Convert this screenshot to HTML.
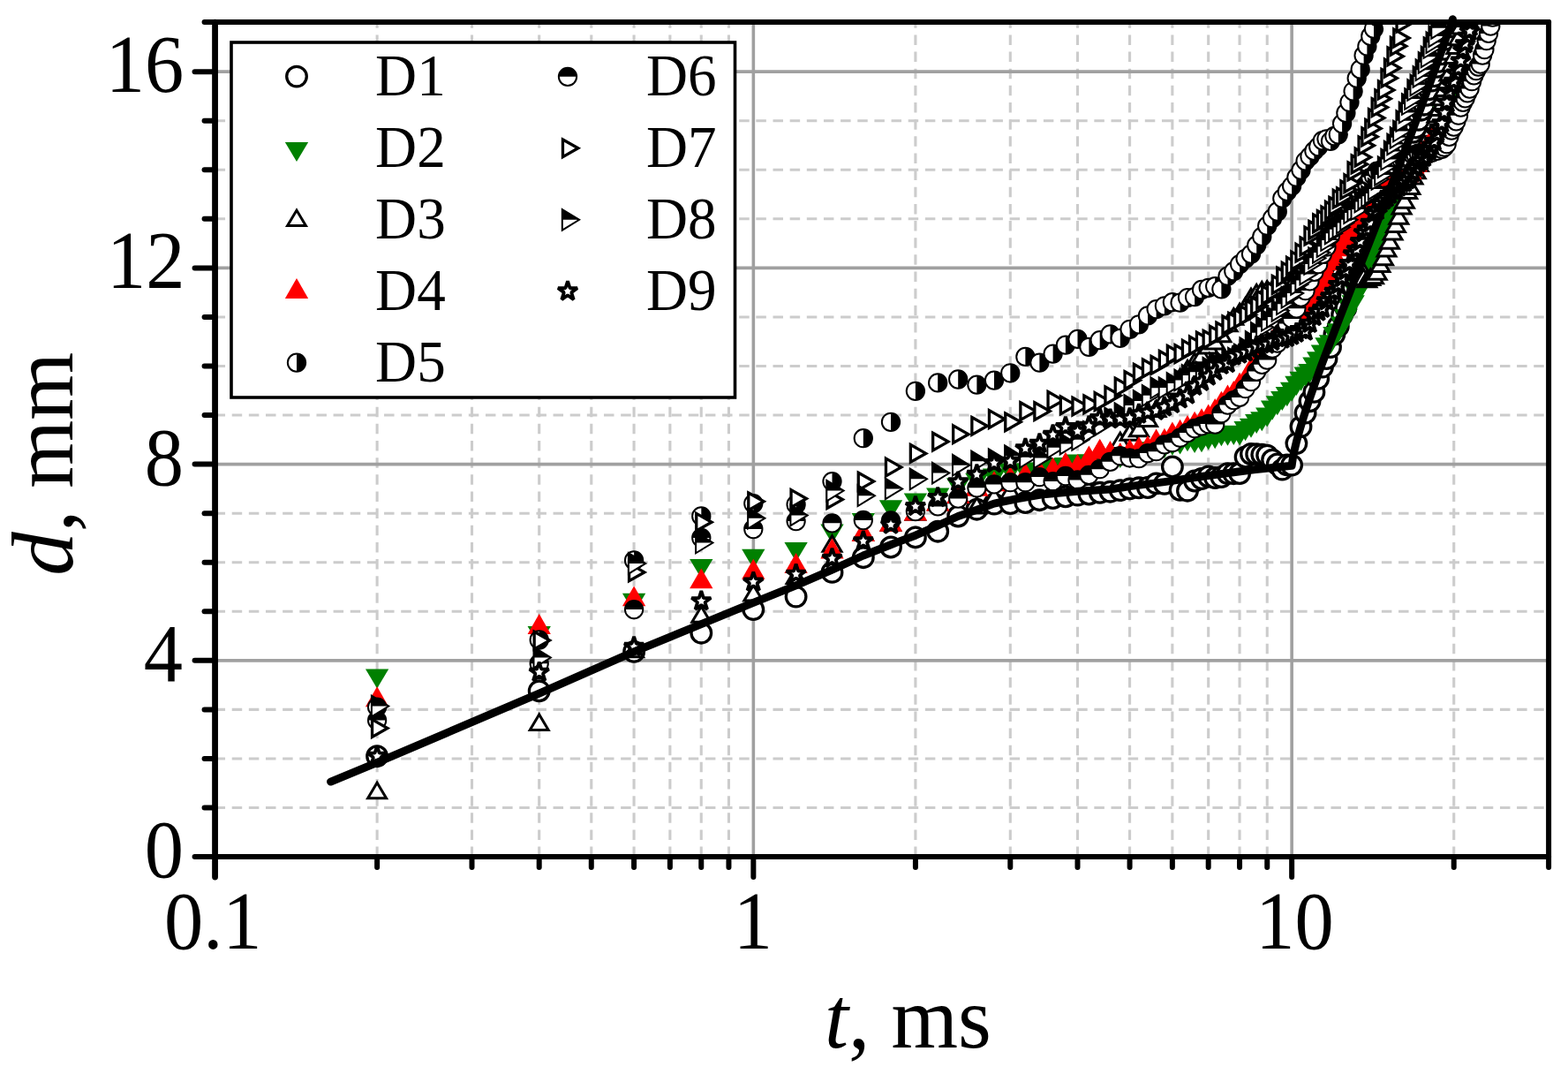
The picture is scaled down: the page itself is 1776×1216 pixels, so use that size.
<!DOCTYPE html>
<html lang="en"><head><meta charset="utf-8"><title>d, mm vs t, ms</title>
<style>html,body{margin:0;padding:0;background:#fff;overflow:hidden}svg{display:block}</style>
</head><body>
<svg width="1776" height="1216" viewBox="0 0 1776 1216">
<rect width="1776" height="1216" fill="#fff"/>
<defs><clipPath id="cp"><rect x="243.55" y="25.10" width="1510.55" height="945.00"/></clipPath><circle id="m1" r="11.3" fill="#fff" stroke="#000" stroke-width="3.3"/><polygon id="m2" points="-13.15,-6.6 13.15,-6.6 0,15.5" fill="#008000"/><polygon id="m3" points="-10.45,7 10.45,7 0,-10.5" fill="#fff" stroke="#000" stroke-width="3"/><polygon id="m4" points="-13.15,8.4 13.15,8.4 0,-14.5" fill="#f00"/><g id="m5"><circle r="10.15" fill="#fff" stroke="#000" stroke-width="2"/><path d="M0,-10.15A10.15,10.15 0 0 1 0,10.15Z" fill="#000"/></g><g id="m6"><circle r="10.15" fill="#fff" stroke="#000" stroke-width="2"/><path d="M-10.15,0A10.15,10.15 0 0 1 10.15,0Z" fill="#000"/></g><polygon id="m7" points="-5.55,-9.84 11.8,0 -5.55,9.84" fill="#fff" stroke="#000" stroke-width="3.3"/><g id="m8"><polygon points="-6.2,-11.8 13.1,0 -6.2,11.8" fill="#fff" stroke="#000" stroke-width="2"/><polygon points="-6.2,-11.8 13.1,0 -6.2,0" fill="#000"/></g><polygon id="m9" points="0.00,-11.50 2.59,-3.56 10.94,-3.55 4.18,1.36 6.76,9.30 0.00,4.40 -6.76,9.30 -4.18,1.36 -10.94,-3.55 -2.59,-3.56" fill="#fff" stroke="#000" stroke-width="3.8" stroke-linejoin="bevel"/></defs>
<g stroke="#cccccc" stroke-width="3.1" stroke-dasharray="11.5 7.65" fill="none"><line x1="427.12" y1="970.10" x2="427.12" y2="25.10"/><line x1="534.50" y1="970.10" x2="534.50" y2="25.10"/><line x1="610.69" y1="970.10" x2="610.69" y2="25.10"/><line x1="669.78" y1="970.10" x2="669.78" y2="25.10"/><line x1="718.07" y1="970.10" x2="718.07" y2="25.10"/><line x1="758.89" y1="970.10" x2="758.89" y2="25.10"/><line x1="794.25" y1="970.10" x2="794.25" y2="25.10"/><line x1="825.45" y1="970.10" x2="825.45" y2="25.10"/><line x1="1036.92" y1="970.10" x2="1036.92" y2="25.10"/><line x1="1144.30" y1="970.10" x2="1144.30" y2="25.10"/><line x1="1220.49" y1="970.10" x2="1220.49" y2="25.10"/><line x1="1279.58" y1="970.10" x2="1279.58" y2="25.10"/><line x1="1327.87" y1="970.10" x2="1327.87" y2="25.10"/><line x1="1368.69" y1="970.10" x2="1368.69" y2="25.10"/><line x1="1404.05" y1="970.10" x2="1404.05" y2="25.10"/><line x1="1435.25" y1="970.10" x2="1435.25" y2="25.10"/><line x1="1646.72" y1="970.10" x2="1646.72" y2="25.10"/><line x1="243.55" y1="914.54" x2="1754.10" y2="914.54"/><line x1="243.55" y1="858.98" x2="1754.10" y2="858.98"/><line x1="243.55" y1="803.42" x2="1754.10" y2="803.42"/><line x1="243.55" y1="692.30" x2="1754.10" y2="692.30"/><line x1="243.55" y1="636.74" x2="1754.10" y2="636.74"/><line x1="243.55" y1="581.18" x2="1754.10" y2="581.18"/><line x1="243.55" y1="470.06" x2="1754.10" y2="470.06"/><line x1="243.55" y1="414.50" x2="1754.10" y2="414.50"/><line x1="243.55" y1="358.94" x2="1754.10" y2="358.94"/><line x1="243.55" y1="247.82" x2="1754.10" y2="247.82"/><line x1="243.55" y1="192.26" x2="1754.10" y2="192.26"/><line x1="243.55" y1="136.70" x2="1754.10" y2="136.70"/></g>
<g stroke="#a0a0a0" stroke-width="3.6" fill="none"><line x1="853.35" y1="970.10" x2="853.35" y2="25.10"/><line x1="1463.15" y1="970.10" x2="1463.15" y2="25.10"/><line x1="243.55" y1="747.86" x2="1754.10" y2="747.86"/><line x1="243.55" y1="525.62" x2="1754.10" y2="525.62"/><line x1="243.55" y1="303.38" x2="1754.10" y2="303.38"/><line x1="243.55" y1="81.14" x2="1754.10" y2="81.14"/></g>
<g clip-path="url(#cp)">
<g><use href="#m1" x="427.1" y="856.2"/><use href="#m1" x="610.7" y="782.3"/><use href="#m1" x="718.1" y="737.9"/><use href="#m1" x="794.3" y="716.7"/><use href="#m1" x="853.3" y="690.1"/><use href="#m1" x="901.6" y="675.6"/><use href="#m1" x="942.5" y="647.9"/><use href="#m1" x="977.8" y="631.2"/><use href="#m1" x="1009.0" y="619.5"/><use href="#m1" x="1036.9" y="608.4"/><use href="#m1" x="1062.2" y="601.7"/><use href="#m1" x="1085.2" y="584.5"/><use href="#m1" x="1106.4" y="576.7"/><use href="#m1" x="1126.0" y="570.6"/><use href="#m1" x="1144.3" y="570.1"/><use href="#m1" x="1161.4" y="569.0"/><use href="#m1" x="1177.4" y="566.2"/><use href="#m1" x="1192.6" y="564.0"/><use href="#m1" x="1206.9" y="562.3"/><use href="#m1" x="1220.5" y="560.6"/><use href="#m1" x="1233.4" y="559.5"/><use href="#m1" x="1245.7" y="557.8"/><use href="#m1" x="1257.5" y="556.7"/><use href="#m1" x="1268.8" y="555.1"/><use href="#m1" x="1279.6" y="553.4"/><use href="#m1" x="1290.0" y="552.3"/><use href="#m1" x="1300.0" y="552.0"/><use href="#m1" x="1309.6" y="547.4"/><use href="#m1" x="1318.9" y="547.9"/><use href="#m1" x="1327.9" y="528.5"/><use href="#m1" x="1336.6" y="554.8"/><use href="#m1" x="1345.0" y="555.7"/><use href="#m1" x="1353.1" y="544.5"/><use href="#m1" x="1361.0" y="542.0"/><use href="#m1" x="1368.7" y="539.5"/><use href="#m1" x="1376.2" y="541.0"/><use href="#m1" x="1383.4" y="540.1"/><use href="#m1" x="1390.5" y="536.1"/><use href="#m1" x="1397.3" y="536.2"/><use href="#m1" x="1404.1" y="536.0"/><use href="#m1" x="1410.6" y="517.5"/><use href="#m1" x="1417.0" y="514.0"/><use href="#m1" x="1423.2" y="514.2"/><use href="#m1" x="1429.3" y="514.8"/><use href="#m1" x="1435.2" y="515.6"/><use href="#m1" x="1441.1" y="520.7"/><use href="#m1" x="1446.8" y="525.5"/><use href="#m1" x="1452.3" y="531.6"/><use href="#m1" x="1457.8" y="526.4"/><use href="#m1" x="1463.1" y="526.6"/><use href="#m1" x="1468.4" y="502.1"/><use href="#m1" x="1473.5" y="483.1"/><use href="#m1" x="1478.6" y="467.6"/><use href="#m1" x="1483.5" y="454.3"/><use href="#m1" x="1488.4" y="443.9"/><use href="#m1" x="1493.2" y="428.8"/><use href="#m1" x="1497.9" y="415.6"/><use href="#m1" x="1502.5" y="406.0"/><use href="#m1" x="1507.0" y="393.1"/><use href="#m1" x="1511.4" y="378.6"/><use href="#m1" x="1515.8" y="369.4"/><use href="#m1" x="1520.1" y="356.6"/><use href="#m1" x="1524.4" y="348.8"/><use href="#m1" x="1528.5" y="335.8"/><use href="#m1" x="1532.6" y="326.7"/><use href="#m1" x="1536.7" y="315.4"/><use href="#m1" x="1540.7" y="304.0"/><use href="#m1" x="1544.6" y="294.5"/><use href="#m1" x="1548.4" y="283.7"/><use href="#m1" x="1552.3" y="274.7"/><use href="#m1" x="1556.0" y="266.4"/><use href="#m1" x="1559.7" y="259.1"/><use href="#m1" x="1563.4" y="249.0"/><use href="#m1" x="1567.0" y="239.4"/><use href="#m1" x="1570.5" y="227.7"/><use href="#m1" x="1574.0" y="219.4"/><use href="#m1" x="1577.5" y="212.1"/><use href="#m1" x="1580.9" y="202.6"/><use href="#m1" x="1584.3" y="194.8"/><use href="#m1" x="1587.6" y="186.1"/><use href="#m1" x="1590.9" y="177.0"/><use href="#m1" x="1594.2" y="166.6"/><use href="#m1" x="1597.4" y="159.3"/><use href="#m1" x="1600.5" y="149.9"/><use href="#m1" x="1603.7" y="144.5"/><use href="#m1" x="1606.8" y="135.9"/><use href="#m1" x="1609.8" y="124.7"/><use href="#m1" x="1612.9" y="118.7"/><use href="#m1" x="1615.9" y="107.8"/><use href="#m1" x="1618.8" y="101.4"/><use href="#m1" x="1621.7" y="91.6"/><use href="#m1" x="1624.6" y="86.4"/><use href="#m1" x="1627.5" y="75.9"/><use href="#m1" x="1630.3" y="69.8"/><use href="#m1" x="1633.1" y="61.4"/><use href="#m1" x="1635.9" y="55.8"/><use href="#m1" x="1638.7" y="44.5"/><use href="#m1" x="1641.4" y="38.7"/><use href="#m1" x="1644.1" y="30.4"/><use href="#m1" x="1646.7" y="24.2"/><use href="#m1" x="1649.4" y="14.4"/></g>
<g><use href="#m2" x="427.1" y="764.0"/><use href="#m2" x="610.7" y="715.6"/><use href="#m2" x="718.1" y="678.4"/><use href="#m2" x="794.3" y="639.5"/><use href="#m2" x="853.3" y="628.4"/><use href="#m2" x="901.6" y="620.6"/><use href="#m2" x="942.5" y="600.1"/><use href="#m2" x="977.8" y="587.6"/><use href="#m2" x="1009.0" y="572.8"/><use href="#m2" x="1036.9" y="565.1"/><use href="#m2" x="1062.2" y="559.0"/><use href="#m2" x="1085.2" y="547.8"/><use href="#m2" x="1106.4" y="542.3"/><use href="#m2" x="1126.0" y="537.2"/><use href="#m2" x="1144.3" y="531.2"/><use href="#m2" x="1161.4" y="531.6"/><use href="#m2" x="1177.4" y="530.1"/><use href="#m2" x="1192.6" y="525.6"/><use href="#m2" x="1206.9" y="524.5"/><use href="#m2" x="1220.5" y="521.2"/><use href="#m2" x="1233.4" y="521.2"/><use href="#m2" x="1245.7" y="518.9"/><use href="#m2" x="1257.5" y="517.6"/><use href="#m2" x="1268.8" y="514.5"/><use href="#m2" x="1279.6" y="514.5"/><use href="#m2" x="1290.0" y="511.6"/><use href="#m2" x="1300.0" y="506.9"/><use href="#m2" x="1309.6" y="506.3"/><use href="#m2" x="1318.9" y="503.6"/><use href="#m2" x="1327.9" y="500.2"/><use href="#m2" x="1336.6" y="499.1"/><use href="#m2" x="1345.0" y="495.8"/><use href="#m2" x="1353.1" y="497.6"/><use href="#m2" x="1361.0" y="496.8"/><use href="#m2" x="1368.7" y="493.9"/><use href="#m2" x="1376.2" y="492.7"/><use href="#m2" x="1383.4" y="489.8"/><use href="#m2" x="1390.5" y="489.3"/><use href="#m2" x="1397.3" y="488.4"/><use href="#m2" x="1404.1" y="489.1"/><use href="#m2" x="1410.6" y="483.7"/><use href="#m2" x="1417.0" y="480.3"/><use href="#m2" x="1423.2" y="475.6"/><use href="#m2" x="1429.3" y="472.8"/><use href="#m2" x="1435.2" y="468.0"/><use href="#m2" x="1441.1" y="460.2"/><use href="#m2" x="1446.8" y="454.8"/><use href="#m2" x="1452.3" y="449.5"/><use href="#m2" x="1457.8" y="444.7"/><use href="#m2" x="1463.1" y="439.3"/><use href="#m2" x="1468.4" y="432.4"/><use href="#m2" x="1473.5" y="427.3"/><use href="#m2" x="1478.6" y="422.1"/><use href="#m2" x="1483.5" y="418.5"/><use href="#m2" x="1488.4" y="411.1"/><use href="#m2" x="1493.2" y="404.8"/><use href="#m2" x="1497.9" y="397.0"/><use href="#m2" x="1502.5" y="388.8"/><use href="#m2" x="1507.0" y="385.8"/><use href="#m2" x="1511.4" y="376.7"/><use href="#m2" x="1515.8" y="372.8"/><use href="#m2" x="1520.1" y="365.2"/><use href="#m2" x="1524.4" y="356.8"/><use href="#m2" x="1528.5" y="345.2"/><use href="#m2" x="1532.6" y="340.8"/><use href="#m2" x="1536.7" y="330.4"/><use href="#m2" x="1540.7" y="324.0"/><use href="#m2" x="1544.6" y="316.2"/><use href="#m2" x="1548.4" y="299.7"/><use href="#m2" x="1552.3" y="290.0"/><use href="#m2" x="1556.0" y="276.3"/><use href="#m2" x="1559.7" y="268.8"/><use href="#m2" x="1563.4" y="258.2"/><use href="#m2" x="1567.0" y="255.9"/><use href="#m2" x="1570.5" y="248.7"/><use href="#m2" x="1574.0" y="243.0"/><use href="#m2" x="1577.5" y="234.3"/><use href="#m2" x="1580.9" y="227.8"/><use href="#m2" x="1584.3" y="223.0"/><use href="#m2" x="1587.6" y="213.0"/><use href="#m2" x="1590.9" y="210.8"/><use href="#m2" x="1594.2" y="203.5"/><use href="#m2" x="1597.4" y="200.5"/><use href="#m2" x="1600.5" y="193.2"/><use href="#m2" x="1603.7" y="188.0"/><use href="#m2" x="1606.8" y="183.7"/><use href="#m2" x="1609.8" y="181.1"/><use href="#m2" x="1612.9" y="179.1"/><use href="#m2" x="1615.9" y="173.5"/><use href="#m2" x="1618.8" y="168.9"/><use href="#m2" x="1621.7" y="165.7"/><use href="#m2" x="1624.6" y="160.7"/><use href="#m2" x="1627.5" y="153.0"/><use href="#m2" x="1630.3" y="146.6"/><use href="#m2" x="1633.1" y="140.6"/><use href="#m2" x="1635.9" y="126.7"/><use href="#m2" x="1638.7" y="116.7"/><use href="#m2" x="1641.4" y="106.0"/></g>
<g><use href="#m3" x="427.1" y="896.8"/><use href="#m3" x="610.7" y="819.5"/><use href="#m3" x="718.1" y="736.7"/><use href="#m3" x="794.3" y="697.3"/><use href="#m3" x="853.3" y="672.9"/><use href="#m3" x="901.6" y="653.4"/><use href="#m3" x="942.5" y="617.3"/><use href="#m3" x="977.8" y="604.5"/><use href="#m3" x="1009.0" y="593.4"/><use href="#m3" x="1036.9" y="581.2"/><use href="#m3" x="1062.2" y="570.1"/><use href="#m3" x="1085.2" y="561.7"/><use href="#m3" x="1106.4" y="574.0"/><use href="#m3" x="1126.0" y="563.4"/><use href="#m3" x="1144.3" y="557.3"/><use href="#m3" x="1161.4" y="538.4"/><use href="#m3" x="1177.4" y="535.2"/><use href="#m3" x="1192.6" y="532.3"/><use href="#m3" x="1206.9" y="526.2"/><use href="#m3" x="1220.5" y="528.4"/><use href="#m3" x="1233.4" y="519.0"/><use href="#m3" x="1245.7" y="511.2"/><use href="#m3" x="1257.5" y="513.4"/><use href="#m3" x="1268.8" y="500.6"/><use href="#m3" x="1279.6" y="491.2"/><use href="#m3" x="1290.0" y="486.7"/><use href="#m3" x="1300.0" y="475.6"/><use href="#m3" x="1309.6" y="464.5"/><use href="#m3" x="1318.9" y="451.6"/><use href="#m3" x="1327.9" y="438.9"/><use href="#m3" x="1336.6" y="428.8"/><use href="#m3" x="1345.0" y="418.9"/><use href="#m3" x="1353.1" y="410.6"/><use href="#m3" x="1361.0" y="403.7"/><use href="#m3" x="1368.7" y="392.9"/><use href="#m3" x="1376.2" y="387.9"/><use href="#m3" x="1383.4" y="379.8"/><use href="#m3" x="1390.5" y="367.8"/><use href="#m3" x="1397.3" y="360.2"/><use href="#m3" x="1404.1" y="354.7"/><use href="#m3" x="1410.6" y="348.2"/><use href="#m3" x="1417.0" y="337.7"/><use href="#m3" x="1423.2" y="333.0"/><use href="#m3" x="1429.3" y="329.9"/><use href="#m3" x="1435.2" y="329.2"/><use href="#m3" x="1441.1" y="328.9"/><use href="#m3" x="1446.8" y="325.9"/><use href="#m3" x="1452.3" y="326.8"/><use href="#m3" x="1457.8" y="325.0"/><use href="#m3" x="1463.1" y="323.8"/><use href="#m3" x="1468.4" y="323.1"/><use href="#m3" x="1473.5" y="323.2"/><use href="#m3" x="1478.6" y="318.3"/><use href="#m3" x="1483.5" y="317.5"/><use href="#m3" x="1488.4" y="316.1"/><use href="#m3" x="1493.2" y="314.8"/><use href="#m3" x="1497.9" y="315.4"/><use href="#m3" x="1502.5" y="312.0"/><use href="#m3" x="1507.0" y="311.9"/><use href="#m3" x="1511.4" y="309.2"/><use href="#m3" x="1515.8" y="307.2"/><use href="#m3" x="1520.1" y="309.4"/><use href="#m3" x="1524.4" y="305.9"/><use href="#m3" x="1528.5" y="307.5"/><use href="#m3" x="1532.6" y="304.1"/><use href="#m3" x="1536.7" y="303.7"/><use href="#m3" x="1540.7" y="302.7"/><use href="#m3" x="1544.6" y="315.5"/><use href="#m3" x="1548.4" y="317.8"/><use href="#m3" x="1552.3" y="315.5"/><use href="#m3" x="1556.0" y="313.8"/><use href="#m3" x="1559.7" y="309.3"/><use href="#m3" x="1563.4" y="300.6"/><use href="#m3" x="1567.0" y="292.8"/><use href="#m3" x="1570.5" y="283.1"/><use href="#m3" x="1574.0" y="274.2"/><use href="#m3" x="1577.5" y="264.1"/><use href="#m3" x="1580.9" y="255.4"/><use href="#m3" x="1584.3" y="246.3"/><use href="#m3" x="1587.6" y="235.1"/><use href="#m3" x="1590.9" y="228.3"/><use href="#m3" x="1594.2" y="217.4"/><use href="#m3" x="1597.4" y="212.6"/><use href="#m3" x="1600.5" y="201.1"/><use href="#m3" x="1603.7" y="194.8"/><use href="#m3" x="1606.8" y="186.6"/><use href="#m3" x="1609.8" y="176.3"/><use href="#m3" x="1612.9" y="170.1"/><use href="#m3" x="1615.9" y="163.1"/><use href="#m3" x="1618.8" y="154.2"/><use href="#m3" x="1621.7" y="147.3"/><use href="#m3" x="1624.6" y="138.6"/><use href="#m3" x="1627.5" y="131.0"/><use href="#m3" x="1630.3" y="123.5"/><use href="#m3" x="1633.1" y="111.7"/><use href="#m3" x="1635.9" y="101.5"/><use href="#m3" x="1638.7" y="93.1"/><use href="#m3" x="1641.4" y="83.9"/><use href="#m3" x="1644.1" y="73.2"/><use href="#m3" x="1646.7" y="64.6"/><use href="#m3" x="1649.4" y="53.5"/><use href="#m3" x="1652.0" y="43.7"/><use href="#m3" x="1654.5" y="31.1"/><use href="#m3" x="1657.1" y="22.4"/></g>
<g><use href="#m4" x="427.1" y="791.8"/><use href="#m4" x="610.7" y="709.5"/><use href="#m4" x="718.1" y="677.9"/><use href="#m4" x="794.3" y="657.9"/><use href="#m4" x="853.3" y="647.3"/><use href="#m4" x="901.6" y="640.6"/><use href="#m4" x="942.5" y="624.0"/><use href="#m4" x="977.8" y="604.5"/><use href="#m4" x="1009.0" y="593.4"/><use href="#m4" x="1036.9" y="581.2"/><use href="#m4" x="1062.2" y="570.1"/><use href="#m4" x="1085.2" y="561.7"/><use href="#m4" x="1106.4" y="553.4"/><use href="#m4" x="1126.0" y="547.8"/><use href="#m4" x="1144.3" y="542.3"/><use href="#m4" x="1161.4" y="538.4"/><use href="#m4" x="1177.4" y="534.9"/><use href="#m4" x="1192.6" y="532.3"/><use href="#m4" x="1206.9" y="526.2"/><use href="#m4" x="1220.5" y="528.4"/><use href="#m4" x="1233.4" y="519.0"/><use href="#m4" x="1245.7" y="511.2"/><use href="#m4" x="1257.5" y="513.4"/><use href="#m4" x="1268.8" y="515.6"/><use href="#m4" x="1279.6" y="511.5"/><use href="#m4" x="1290.0" y="508.8"/><use href="#m4" x="1300.0" y="507.4"/><use href="#m4" x="1309.6" y="499.9"/><use href="#m4" x="1318.9" y="499.3"/><use href="#m4" x="1327.9" y="492.1"/><use href="#m4" x="1336.6" y="489.3"/><use href="#m4" x="1345.0" y="484.5"/><use href="#m4" x="1353.1" y="480.2"/><use href="#m4" x="1361.0" y="476.8"/><use href="#m4" x="1368.7" y="472.0"/><use href="#m4" x="1376.2" y="465.6"/><use href="#m4" x="1383.4" y="457.2"/><use href="#m4" x="1390.5" y="450.0"/><use href="#m4" x="1397.3" y="445.5"/><use href="#m4" x="1404.1" y="436.3"/><use href="#m4" x="1410.6" y="430.4"/><use href="#m4" x="1417.0" y="418.7"/><use href="#m4" x="1423.2" y="410.9"/><use href="#m4" x="1429.3" y="400.1"/><use href="#m4" x="1435.2" y="391.1"/><use href="#m4" x="1441.1" y="387.2"/><use href="#m4" x="1446.8" y="381.6"/><use href="#m4" x="1452.3" y="378.0"/><use href="#m4" x="1457.8" y="374.6"/><use href="#m4" x="1463.1" y="370.3"/><use href="#m4" x="1468.4" y="362.4"/><use href="#m4" x="1473.5" y="359.8"/><use href="#m4" x="1478.6" y="349.6"/><use href="#m4" x="1483.5" y="346.0"/><use href="#m4" x="1488.4" y="337.0"/><use href="#m4" x="1493.2" y="332.7"/><use href="#m4" x="1497.9" y="320.1"/><use href="#m4" x="1502.5" y="308.8"/><use href="#m4" x="1507.0" y="297.9"/><use href="#m4" x="1511.4" y="290.2"/><use href="#m4" x="1515.8" y="281.8"/><use href="#m4" x="1520.1" y="279.4"/><use href="#m4" x="1524.4" y="270.6"/><use href="#m4" x="1528.5" y="267.7"/><use href="#m4" x="1532.6" y="261.1"/><use href="#m4" x="1536.7" y="255.9"/><use href="#m4" x="1540.7" y="252.4"/><use href="#m4" x="1544.6" y="245.8"/><use href="#m4" x="1548.4" y="240.5"/><use href="#m4" x="1552.3" y="239.7"/><use href="#m4" x="1556.0" y="232.4"/><use href="#m4" x="1559.7" y="225.8"/><use href="#m4" x="1563.4" y="218.8"/><use href="#m4" x="1567.0" y="216.3"/><use href="#m4" x="1570.5" y="208.6"/><use href="#m4" x="1574.0" y="205.9"/><use href="#m4" x="1577.5" y="205.5"/><use href="#m4" x="1580.9" y="203.0"/><use href="#m4" x="1584.3" y="203.1"/><use href="#m4" x="1587.6" y="198.5"/><use href="#m4" x="1590.9" y="196.0"/><use href="#m4" x="1594.2" y="197.8"/><use href="#m4" x="1597.4" y="194.6"/><use href="#m4" x="1600.5" y="188.2"/><use href="#m4" x="1603.7" y="186.2"/><use href="#m4" x="1606.8" y="179.4"/><use href="#m4" x="1609.8" y="175.6"/><use href="#m4" x="1612.9" y="173.5"/><use href="#m4" x="1615.9" y="167.8"/><use href="#m4" x="1618.8" y="164.5"/><use href="#m4" x="1621.7" y="158.9"/><use href="#m4" x="1624.6" y="156.6"/><use href="#m4" x="1627.5" y="150.4"/></g>
<g><use href="#m5" x="427.1" y="800.6"/><use href="#m5" x="610.7" y="724.5"/><use href="#m5" x="718.1" y="634.5"/><use href="#m5" x="794.3" y="584.5"/><use href="#m5" x="853.3" y="570.1"/><use href="#m5" x="901.6" y="571.2"/><use href="#m5" x="942.5" y="545.1"/><use href="#m5" x="977.8" y="496.2"/><use href="#m5" x="1009.0" y="477.8"/><use href="#m5" x="1036.9" y="442.8"/><use href="#m5" x="1062.2" y="433.4"/><use href="#m5" x="1085.2" y="429.5"/><use href="#m5" x="1106.4" y="435.6"/><use href="#m5" x="1126.0" y="430.6"/><use href="#m5" x="1144.3" y="422.3"/><use href="#m5" x="1161.4" y="403.9"/><use href="#m5" x="1177.4" y="410.6"/><use href="#m5" x="1192.6" y="400.6"/><use href="#m5" x="1206.9" y="390.6"/><use href="#m5" x="1220.5" y="383.9"/><use href="#m5" x="1233.4" y="392.8"/><use href="#m5" x="1245.7" y="385.1"/><use href="#m5" x="1257.5" y="378.4"/><use href="#m5" x="1268.8" y="382.8"/><use href="#m5" x="1279.6" y="372.8"/><use href="#m5" x="1290.0" y="367.3"/><use href="#m5" x="1300.0" y="357.4"/><use href="#m5" x="1309.6" y="350.1"/><use href="#m5" x="1318.9" y="346.3"/><use href="#m5" x="1327.9" y="342.2"/><use href="#m5" x="1336.6" y="342.7"/><use href="#m5" x="1345.0" y="337.1"/><use href="#m5" x="1353.1" y="336.1"/><use href="#m5" x="1361.0" y="328.0"/><use href="#m5" x="1368.7" y="325.8"/><use href="#m5" x="1376.2" y="324.1"/><use href="#m5" x="1383.4" y="327.3"/><use href="#m5" x="1390.5" y="312.7"/><use href="#m5" x="1397.3" y="307.1"/><use href="#m5" x="1404.1" y="299.1"/><use href="#m5" x="1410.6" y="292.8"/><use href="#m5" x="1417.0" y="287.6"/><use href="#m5" x="1423.2" y="277.6"/><use href="#m5" x="1429.3" y="267.9"/><use href="#m5" x="1435.2" y="255.7"/><use href="#m5" x="1441.1" y="247.2"/><use href="#m5" x="1446.8" y="239.5"/><use href="#m5" x="1452.3" y="224.6"/><use href="#m5" x="1457.8" y="216.9"/><use href="#m5" x="1463.1" y="210.6"/><use href="#m5" x="1468.4" y="200.7"/><use href="#m5" x="1473.5" y="192.6"/><use href="#m5" x="1478.6" y="182.3"/><use href="#m5" x="1483.5" y="177.2"/><use href="#m5" x="1488.4" y="170.9"/><use href="#m5" x="1493.2" y="166.0"/><use href="#m5" x="1497.9" y="159.1"/><use href="#m5" x="1502.5" y="157.3"/><use href="#m5" x="1507.0" y="159.8"/><use href="#m5" x="1511.4" y="154.0"/><use href="#m5" x="1515.8" y="152.3"/><use href="#m5" x="1520.1" y="140.0"/><use href="#m5" x="1524.4" y="127.9"/><use href="#m5" x="1528.5" y="115.8"/><use href="#m5" x="1532.6" y="103.3"/><use href="#m5" x="1536.7" y="88.6"/><use href="#m5" x="1540.7" y="78.4"/><use href="#m5" x="1544.6" y="62.7"/><use href="#m5" x="1548.4" y="52.4"/><use href="#m5" x="1552.3" y="40.9"/><use href="#m5" x="1556.0" y="32.5"/><use href="#m5" x="1559.7" y="18.9"/><use href="#m5" x="1563.4" y="10.4"/><use href="#m5" x="1567.0" y="-0.8"/></g>
<g><use href="#m6" x="427.1" y="815.6"/><use href="#m6" x="610.7" y="751.2"/><use href="#m6" x="718.1" y="690.1"/><use href="#m6" x="794.3" y="609.0"/><use href="#m6" x="853.3" y="599.0"/><use href="#m6" x="901.6" y="590.1"/><use href="#m6" x="942.5" y="592.3"/><use href="#m6" x="977.8" y="589.0"/><use href="#m6" x="1009.0" y="589.5"/><use href="#m6" x="1036.9" y="579.0"/><use href="#m6" x="1062.2" y="573.4"/><use href="#m6" x="1085.2" y="564.5"/><use href="#m6" x="1106.4" y="552.3"/><use href="#m6" x="1126.0" y="548.4"/><use href="#m6" x="1144.3" y="546.2"/><use href="#m6" x="1161.4" y="546.2"/><use href="#m6" x="1177.4" y="540.1"/><use href="#m6" x="1192.6" y="545.1"/><use href="#m6" x="1206.9" y="539.0"/><use href="#m6" x="1220.5" y="543.4"/><use href="#m6" x="1233.4" y="537.8"/><use href="#m6" x="1245.7" y="531.2"/><use href="#m6" x="1257.5" y="522.8"/><use href="#m6" x="1268.8" y="516.2"/><use href="#m6" x="1279.6" y="518.4"/><use href="#m6" x="1290.0" y="519.1"/><use href="#m6" x="1300.0" y="513.1"/><use href="#m6" x="1309.6" y="511.2"/><use href="#m6" x="1318.9" y="503.4"/><use href="#m6" x="1327.9" y="501.2"/><use href="#m6" x="1336.6" y="495.7"/><use href="#m6" x="1345.0" y="490.0"/><use href="#m6" x="1353.1" y="485.0"/><use href="#m6" x="1361.0" y="482.4"/><use href="#m6" x="1368.7" y="480.0"/><use href="#m6" x="1376.2" y="480.5"/><use href="#m6" x="1383.4" y="468.0"/><use href="#m6" x="1390.5" y="458.5"/><use href="#m6" x="1397.3" y="453.1"/><use href="#m6" x="1404.1" y="449.9"/><use href="#m6" x="1410.6" y="440.0"/><use href="#m6" x="1417.0" y="432.0"/><use href="#m6" x="1423.2" y="420.6"/><use href="#m6" x="1429.3" y="412.8"/><use href="#m6" x="1435.2" y="407.5"/><use href="#m6" x="1441.1" y="394.7"/><use href="#m6" x="1446.8" y="388.6"/><use href="#m6" x="1452.3" y="376.4"/><use href="#m6" x="1457.8" y="366.4"/><use href="#m6" x="1463.1" y="360.9"/><use href="#m6" x="1468.4" y="349.3"/><use href="#m6" x="1473.5" y="336.5"/><use href="#m6" x="1478.6" y="329.0"/><use href="#m6" x="1483.5" y="318.4"/><use href="#m6" x="1488.4" y="307.9"/><use href="#m6" x="1493.2" y="299.1"/><use href="#m6" x="1497.9" y="287.8"/><use href="#m6" x="1502.5" y="279.5"/><use href="#m6" x="1507.0" y="266.6"/><use href="#m6" x="1511.4" y="257.5"/><use href="#m6" x="1515.8" y="252.3"/><use href="#m6" x="1520.1" y="245.9"/><use href="#m6" x="1524.4" y="241.5"/><use href="#m6" x="1528.5" y="233.0"/><use href="#m6" x="1532.6" y="230.7"/><use href="#m6" x="1536.7" y="224.9"/><use href="#m6" x="1540.7" y="218.8"/><use href="#m6" x="1544.6" y="211.9"/><use href="#m6" x="1548.4" y="208.2"/><use href="#m6" x="1552.3" y="200.8"/><use href="#m6" x="1556.0" y="199.2"/><use href="#m6" x="1559.7" y="193.7"/><use href="#m6" x="1563.4" y="193.8"/><use href="#m6" x="1567.0" y="190.6"/><use href="#m6" x="1570.5" y="188.1"/><use href="#m6" x="1574.0" y="187.3"/><use href="#m6" x="1577.5" y="185.9"/><use href="#m6" x="1580.9" y="182.5"/><use href="#m6" x="1584.3" y="183.2"/><use href="#m6" x="1587.6" y="181.1"/><use href="#m6" x="1590.9" y="181.8"/><use href="#m6" x="1594.2" y="179.3"/><use href="#m6" x="1597.4" y="179.2"/><use href="#m6" x="1600.5" y="175.4"/><use href="#m6" x="1603.7" y="176.0"/><use href="#m6" x="1606.8" y="173.5"/><use href="#m6" x="1609.8" y="175.5"/><use href="#m6" x="1612.9" y="174.9"/><use href="#m6" x="1615.9" y="172.2"/><use href="#m6" x="1618.8" y="169.7"/><use href="#m6" x="1621.7" y="172.8"/><use href="#m6" x="1624.6" y="169.1"/><use href="#m6" x="1627.5" y="170.8"/><use href="#m6" x="1630.3" y="166.7"/><use href="#m6" x="1633.1" y="168.8"/><use href="#m6" x="1635.9" y="166.7"/><use href="#m6" x="1638.7" y="163.1"/><use href="#m6" x="1641.4" y="154.8"/><use href="#m6" x="1644.1" y="147.5"/><use href="#m6" x="1646.7" y="143.5"/><use href="#m6" x="1649.4" y="137.3"/><use href="#m6" x="1652.0" y="130.7"/><use href="#m6" x="1654.5" y="121.6"/><use href="#m6" x="1657.1" y="115.9"/><use href="#m6" x="1659.6" y="111.4"/><use href="#m6" x="1662.1" y="105.3"/><use href="#m6" x="1664.6" y="100.6"/><use href="#m6" x="1667.1" y="92.2"/><use href="#m6" x="1669.5" y="85.3"/><use href="#m6" x="1672.0" y="80.0"/><use href="#m6" x="1674.4" y="75.5"/><use href="#m6" x="1676.7" y="72.5"/><use href="#m6" x="1679.1" y="62.5"/><use href="#m6" x="1681.4" y="56.0"/><use href="#m6" x="1683.7" y="46.0"/><use href="#m6" x="1686.0" y="37.9"/><use href="#m6" x="1688.3" y="29.5"/><use href="#m6" x="1690.6" y="19.6"/><use href="#m6" x="1692.8" y="10.1"/><use href="#m6" x="1695.0" y="2.7"/></g>
<g><use href="#m7" x="427.1" y="824.5"/><use href="#m7" x="610.7" y="725.1"/><use href="#m7" x="718.1" y="647.9"/><use href="#m7" x="794.3" y="591.2"/><use href="#m7" x="853.3" y="567.8"/><use href="#m7" x="901.6" y="564.5"/><use href="#m7" x="942.5" y="565.6"/><use href="#m7" x="977.8" y="545.1"/><use href="#m7" x="1009.0" y="529.0"/><use href="#m7" x="1036.9" y="513.4"/><use href="#m7" x="1062.2" y="500.1"/><use href="#m7" x="1085.2" y="491.7"/><use href="#m7" x="1106.4" y="482.3"/><use href="#m7" x="1126.0" y="474.5"/><use href="#m7" x="1144.3" y="477.8"/><use href="#m7" x="1161.4" y="465.6"/><use href="#m7" x="1177.4" y="465.6"/><use href="#m7" x="1192.6" y="453.4"/><use href="#m7" x="1206.9" y="458.9"/><use href="#m7" x="1220.5" y="460.1"/><use href="#m7" x="1233.4" y="457.8"/><use href="#m7" x="1245.7" y="454.5"/><use href="#m7" x="1257.5" y="447.8"/><use href="#m7" x="1268.8" y="438.1"/><use href="#m7" x="1279.6" y="430.6"/><use href="#m7" x="1290.0" y="422.3"/><use href="#m7" x="1300.0" y="416.8"/><use href="#m7" x="1309.6" y="413.4"/><use href="#m7" x="1318.9" y="407.3"/><use href="#m7" x="1327.9" y="401.3"/><use href="#m7" x="1336.6" y="400.6"/><use href="#m7" x="1345.0" y="395.2"/><use href="#m7" x="1353.1" y="391.0"/><use href="#m7" x="1361.0" y="386.1"/><use href="#m7" x="1368.7" y="384.3"/><use href="#m7" x="1376.2" y="379.3"/><use href="#m7" x="1383.4" y="375.1"/><use href="#m7" x="1390.5" y="367.9"/><use href="#m7" x="1397.3" y="364.3"/><use href="#m7" x="1404.1" y="360.5"/><use href="#m7" x="1410.6" y="356.6"/><use href="#m7" x="1417.0" y="350.2"/><use href="#m7" x="1423.2" y="346.3"/><use href="#m7" x="1429.3" y="339.4"/><use href="#m7" x="1435.2" y="334.0"/><use href="#m7" x="1441.1" y="329.9"/><use href="#m7" x="1446.8" y="322.3"/><use href="#m7" x="1452.3" y="313.1"/><use href="#m7" x="1457.8" y="307.2"/><use href="#m7" x="1463.1" y="301.2"/><use href="#m7" x="1468.4" y="295.0"/><use href="#m7" x="1473.5" y="286.2"/><use href="#m7" x="1478.6" y="278.8"/><use href="#m7" x="1483.5" y="267.1"/><use href="#m7" x="1488.4" y="260.3"/><use href="#m7" x="1493.2" y="252.8"/><use href="#m7" x="1497.9" y="248.6"/><use href="#m7" x="1502.5" y="244.0"/><use href="#m7" x="1507.0" y="238.2"/><use href="#m7" x="1511.4" y="233.3"/><use href="#m7" x="1515.8" y="225.2"/><use href="#m7" x="1520.1" y="222.8"/><use href="#m7" x="1524.4" y="214.9"/><use href="#m7" x="1528.5" y="207.7"/><use href="#m7" x="1532.6" y="193.9"/><use href="#m7" x="1536.7" y="185.9"/><use href="#m7" x="1540.7" y="178.0"/><use href="#m7" x="1544.6" y="164.8"/><use href="#m7" x="1548.4" y="154.8"/><use href="#m7" x="1552.3" y="145.4"/><use href="#m7" x="1556.0" y="133.6"/><use href="#m7" x="1559.7" y="121.6"/><use href="#m7" x="1563.4" y="111.8"/><use href="#m7" x="1567.0" y="101.9"/><use href="#m7" x="1570.5" y="88.4"/><use href="#m7" x="1574.0" y="77.0"/><use href="#m7" x="1577.5" y="63.8"/><use href="#m7" x="1580.9" y="52.3"/><use href="#m7" x="1584.3" y="43.0"/><use href="#m7" x="1587.6" y="26.2"/><use href="#m7" x="1590.9" y="10.8"/><use href="#m7" x="1594.2" y="-2.2"/></g>
<g><use href="#m8" x="427.1" y="799.5"/><use href="#m8" x="610.7" y="744.5"/><use href="#m8" x="718.1" y="637.9"/><use href="#m8" x="794.3" y="614.5"/><use href="#m8" x="853.3" y="586.7"/><use href="#m8" x="901.6" y="583.4"/><use href="#m8" x="942.5" y="555.6"/><use href="#m8" x="977.8" y="561.2"/><use href="#m8" x="1009.0" y="553.4"/><use href="#m8" x="1036.9" y="542.3"/><use href="#m8" x="1062.2" y="535.6"/><use href="#m8" x="1085.2" y="526.7"/><use href="#m8" x="1106.4" y="522.3"/><use href="#m8" x="1126.0" y="520.1"/><use href="#m8" x="1144.3" y="516.2"/><use href="#m8" x="1161.4" y="517.7"/><use href="#m8" x="1177.4" y="518.4"/><use href="#m8" x="1192.6" y="506.7"/><use href="#m8" x="1206.9" y="502.6"/><use href="#m8" x="1220.5" y="497.8"/><use href="#m8" x="1233.4" y="488.8"/><use href="#m8" x="1245.7" y="481.4"/><use href="#m8" x="1257.5" y="473.3"/><use href="#m8" x="1268.8" y="468.2"/><use href="#m8" x="1279.6" y="458.9"/><use href="#m8" x="1290.0" y="453.9"/><use href="#m8" x="1300.0" y="447.8"/><use href="#m8" x="1309.6" y="439.2"/><use href="#m8" x="1318.9" y="439.1"/><use href="#m8" x="1327.9" y="433.9"/><use href="#m8" x="1336.6" y="430.4"/><use href="#m8" x="1345.0" y="424.9"/><use href="#m8" x="1353.1" y="421.2"/><use href="#m8" x="1361.0" y="421.3"/><use href="#m8" x="1368.7" y="416.7"/><use href="#m8" x="1376.2" y="411.1"/><use href="#m8" x="1383.4" y="410.4"/><use href="#m8" x="1390.5" y="406.6"/><use href="#m8" x="1397.3" y="405.6"/><use href="#m8" x="1404.1" y="401.5"/><use href="#m8" x="1410.6" y="394.2"/><use href="#m8" x="1417.0" y="386.9"/><use href="#m8" x="1423.2" y="376.8"/><use href="#m8" x="1429.3" y="370.5"/><use href="#m8" x="1435.2" y="362.7"/><use href="#m8" x="1441.1" y="359.1"/><use href="#m8" x="1446.8" y="351.8"/><use href="#m8" x="1452.3" y="344.2"/><use href="#m8" x="1457.8" y="336.7"/><use href="#m8" x="1463.1" y="331.9"/><use href="#m8" x="1468.4" y="321.9"/><use href="#m8" x="1473.5" y="317.4"/><use href="#m8" x="1478.6" y="310.4"/><use href="#m8" x="1483.5" y="298.9"/><use href="#m8" x="1488.4" y="292.2"/><use href="#m8" x="1493.2" y="285.9"/><use href="#m8" x="1497.9" y="279.2"/><use href="#m8" x="1502.5" y="272.0"/><use href="#m8" x="1507.0" y="264.3"/><use href="#m8" x="1511.4" y="259.7"/><use href="#m8" x="1515.8" y="257.3"/><use href="#m8" x="1520.1" y="252.4"/><use href="#m8" x="1524.4" y="248.8"/><use href="#m8" x="1528.5" y="241.1"/><use href="#m8" x="1532.6" y="237.9"/><use href="#m8" x="1536.7" y="237.0"/><use href="#m8" x="1540.7" y="228.5"/><use href="#m8" x="1544.6" y="225.0"/><use href="#m8" x="1548.4" y="222.3"/><use href="#m8" x="1552.3" y="218.9"/><use href="#m8" x="1556.0" y="214.1"/><use href="#m8" x="1559.7" y="202.8"/><use href="#m8" x="1563.4" y="197.9"/><use href="#m8" x="1567.0" y="189.2"/><use href="#m8" x="1570.5" y="180.5"/><use href="#m8" x="1574.0" y="171.5"/><use href="#m8" x="1577.5" y="163.4"/><use href="#m8" x="1580.9" y="155.8"/><use href="#m8" x="1584.3" y="148.5"/><use href="#m8" x="1587.6" y="136.8"/><use href="#m8" x="1590.9" y="127.5"/><use href="#m8" x="1594.2" y="118.0"/><use href="#m8" x="1597.4" y="112.0"/><use href="#m8" x="1600.5" y="101.9"/><use href="#m8" x="1603.7" y="96.3"/><use href="#m8" x="1606.8" y="86.9"/><use href="#m8" x="1609.8" y="79.2"/><use href="#m8" x="1612.9" y="70.8"/><use href="#m8" x="1615.9" y="64.3"/><use href="#m8" x="1618.8" y="54.0"/><use href="#m8" x="1621.7" y="48.2"/><use href="#m8" x="1624.6" y="41.1"/><use href="#m8" x="1627.5" y="31.8"/><use href="#m8" x="1630.3" y="18.0"/><use href="#m8" x="1633.1" y="8.1"/><use href="#m8" x="1635.9" y="-4.0"/></g>
<g><use href="#m9" x="427.1" y="856.2"/><use href="#m9" x="610.7" y="761.2"/><use href="#m9" x="718.1" y="732.3"/><use href="#m9" x="794.3" y="680.6"/><use href="#m9" x="853.3" y="659.0"/><use href="#m9" x="901.6" y="650.1"/><use href="#m9" x="942.5" y="632.3"/><use href="#m9" x="977.8" y="612.8"/><use href="#m9" x="1009.0" y="594.0"/><use href="#m9" x="1036.9" y="573.4"/><use href="#m9" x="1062.2" y="563.4"/><use href="#m9" x="1085.2" y="545.6"/><use href="#m9" x="1106.4" y="537.3"/><use href="#m9" x="1126.0" y="524.5"/><use href="#m9" x="1144.3" y="522.3"/><use href="#m9" x="1161.4" y="507.8"/><use href="#m9" x="1177.4" y="502.3"/><use href="#m9" x="1192.6" y="492.3"/><use href="#m9" x="1206.9" y="483.4"/><use href="#m9" x="1220.5" y="488.4"/><use href="#m9" x="1233.4" y="482.3"/><use href="#m9" x="1245.7" y="473.4"/><use href="#m9" x="1257.5" y="474.5"/><use href="#m9" x="1268.8" y="474.5"/><use href="#m9" x="1279.6" y="473.4"/><use href="#m9" x="1290.0" y="468.9"/><use href="#m9" x="1300.0" y="466.6"/><use href="#m9" x="1309.6" y="465.1"/><use href="#m9" x="1318.9" y="460.7"/><use href="#m9" x="1327.9" y="457.2"/><use href="#m9" x="1336.6" y="451.7"/><use href="#m9" x="1345.0" y="446.9"/><use href="#m9" x="1353.1" y="437.1"/><use href="#m9" x="1361.0" y="432.1"/><use href="#m9" x="1368.7" y="425.9"/><use href="#m9" x="1376.2" y="420.1"/><use href="#m9" x="1383.4" y="413.2"/><use href="#m9" x="1390.5" y="411.4"/><use href="#m9" x="1397.3" y="402.9"/><use href="#m9" x="1404.1" y="400.9"/><use href="#m9" x="1410.6" y="398.7"/><use href="#m9" x="1417.0" y="395.9"/><use href="#m9" x="1423.2" y="392.2"/><use href="#m9" x="1429.3" y="389.7"/><use href="#m9" x="1435.2" y="389.9"/><use href="#m9" x="1441.1" y="386.3"/><use href="#m9" x="1446.8" y="382.5"/><use href="#m9" x="1452.3" y="384.0"/><use href="#m9" x="1457.8" y="382.2"/><use href="#m9" x="1463.1" y="380.0"/><use href="#m9" x="1468.4" y="377.1"/><use href="#m9" x="1473.5" y="373.4"/><use href="#m9" x="1478.6" y="375.0"/><use href="#m9" x="1483.5" y="366.2"/><use href="#m9" x="1488.4" y="358.3"/><use href="#m9" x="1493.2" y="352.9"/><use href="#m9" x="1497.9" y="349.2"/><use href="#m9" x="1502.5" y="340.7"/><use href="#m9" x="1507.0" y="335.7"/><use href="#m9" x="1511.4" y="330.3"/><use href="#m9" x="1515.8" y="322.5"/><use href="#m9" x="1520.1" y="314.4"/><use href="#m9" x="1524.4" y="306.5"/><use href="#m9" x="1528.5" y="298.5"/><use href="#m9" x="1532.6" y="287.8"/><use href="#m9" x="1536.7" y="282.6"/><use href="#m9" x="1540.7" y="273.5"/><use href="#m9" x="1544.6" y="263.6"/><use href="#m9" x="1548.4" y="259.6"/><use href="#m9" x="1552.3" y="252.3"/><use href="#m9" x="1556.0" y="242.0"/><use href="#m9" x="1559.7" y="238.5"/><use href="#m9" x="1563.4" y="230.6"/><use href="#m9" x="1567.0" y="226.8"/><use href="#m9" x="1570.5" y="223.9"/><use href="#m9" x="1574.0" y="220.1"/><use href="#m9" x="1577.5" y="215.9"/><use href="#m9" x="1580.9" y="215.2"/><use href="#m9" x="1584.3" y="211.8"/><use href="#m9" x="1587.6" y="207.3"/><use href="#m9" x="1590.9" y="206.9"/><use href="#m9" x="1594.2" y="203.7"/><use href="#m9" x="1597.4" y="199.5"/><use href="#m9" x="1600.5" y="195.5"/><use href="#m9" x="1603.7" y="189.7"/><use href="#m9" x="1606.8" y="184.2"/><use href="#m9" x="1609.8" y="182.0"/><use href="#m9" x="1612.9" y="178.2"/><use href="#m9" x="1615.9" y="172.0"/><use href="#m9" x="1618.8" y="170.2"/><use href="#m9" x="1621.7" y="165.0"/><use href="#m9" x="1624.6" y="160.2"/><use href="#m9" x="1627.5" y="152.0"/><use href="#m9" x="1630.3" y="145.2"/><use href="#m9" x="1633.1" y="139.7"/><use href="#m9" x="1635.9" y="127.5"/><use href="#m9" x="1638.7" y="115.9"/><use href="#m9" x="1641.4" y="103.7"/><use href="#m9" x="1644.1" y="96.7"/><use href="#m9" x="1646.7" y="92.1"/><use href="#m9" x="1649.4" y="83.0"/><use href="#m9" x="1652.0" y="77.6"/><use href="#m9" x="1654.5" y="68.9"/><use href="#m9" x="1657.1" y="57.0"/><use href="#m9" x="1659.6" y="49.6"/><use href="#m9" x="1662.1" y="41.1"/><use href="#m9" x="1664.6" y="35.5"/><use href="#m9" x="1667.1" y="23.8"/><use href="#m9" x="1669.5" y="11.8"/></g>
</g>
<path d="M374.6,885.1L427.1,863.4L610.7,785.1L718.1,737.9L794.3,706.7L853.3,682.3L901.6,662.9L942.5,645.1L977.8,629.0L1009.0,616.7L1036.9,606.2L1062.2,595.1L1085.2,584.5L1106.4,577.3L1126.0,570.1L1153.0,564.5L1179.0,560.1L1220.5,556.2L1257.5,554.0L1279.6,550.6L1318.9,545.6L1361.0,539.5L1420.1,531.7L1463.1,527.3L1464.5,517.7L1465.8,511.2L1468.4,500.2L1472.3,486.1L1476.1,473.4L1482.3,454.3L1488.4,436.7L1496.9,413.2L1507.0,386.6L1517.5,359.3L1526.7,336.0L1536.7,310.6L1552.3,271.1L1570.5,224.5L1587.6,180.1L1603.7,137.5L1618.8,96.5L1633.1,56.7L1645.4,21.8" fill="none" stroke="#000" stroke-width="9" stroke-linecap="round" stroke-linejoin="round"/>
<g stroke="#000" stroke-width="6.00" stroke-linecap="round" fill="none"><line x1="243.55" y1="25.10" x2="243.55" y2="993.10" stroke-width="6.8"/><line x1="1754.10" y1="25.10" x2="1754.10" y2="982.10"/><line x1="231.55" y1="25.10" x2="1754.10" y2="25.10"/><line x1="220.55" y1="970.10" x2="1754.10" y2="970.10"/><line x1="220.55" y1="747.86" x2="243.55" y2="747.86"/><line x1="220.55" y1="525.62" x2="243.55" y2="525.62"/><line x1="220.55" y1="303.38" x2="243.55" y2="303.38"/><line x1="220.55" y1="81.14" x2="243.55" y2="81.14"/><line x1="231.55" y1="914.54" x2="243.55" y2="914.54"/><line x1="231.55" y1="858.98" x2="243.55" y2="858.98"/><line x1="231.55" y1="803.42" x2="243.55" y2="803.42"/><line x1="231.55" y1="692.30" x2="243.55" y2="692.30"/><line x1="231.55" y1="636.74" x2="243.55" y2="636.74"/><line x1="231.55" y1="581.18" x2="243.55" y2="581.18"/><line x1="231.55" y1="470.06" x2="243.55" y2="470.06"/><line x1="231.55" y1="414.50" x2="243.55" y2="414.50"/><line x1="231.55" y1="358.94" x2="243.55" y2="358.94"/><line x1="231.55" y1="247.82" x2="243.55" y2="247.82"/><line x1="231.55" y1="192.26" x2="243.55" y2="192.26"/><line x1="231.55" y1="136.70" x2="243.55" y2="136.70"/><line x1="853.35" y1="970.10" x2="853.35" y2="993.10"/><line x1="1463.15" y1="970.10" x2="1463.15" y2="993.10"/><line x1="427.12" y1="970.10" x2="427.12" y2="982.10"/><line x1="534.50" y1="970.10" x2="534.50" y2="982.10"/><line x1="610.69" y1="970.10" x2="610.69" y2="982.10"/><line x1="669.78" y1="970.10" x2="669.78" y2="982.10"/><line x1="718.07" y1="970.10" x2="718.07" y2="982.10"/><line x1="758.89" y1="970.10" x2="758.89" y2="982.10"/><line x1="794.25" y1="970.10" x2="794.25" y2="982.10"/><line x1="825.45" y1="970.10" x2="825.45" y2="982.10"/><line x1="1036.92" y1="970.10" x2="1036.92" y2="982.10"/><line x1="1144.30" y1="970.10" x2="1144.30" y2="982.10"/><line x1="1220.49" y1="970.10" x2="1220.49" y2="982.10"/><line x1="1279.58" y1="970.10" x2="1279.58" y2="982.10"/><line x1="1327.87" y1="970.10" x2="1327.87" y2="982.10"/><line x1="1368.69" y1="970.10" x2="1368.69" y2="982.10"/><line x1="1404.05" y1="970.10" x2="1404.05" y2="982.10"/><line x1="1435.25" y1="970.10" x2="1435.25" y2="982.10"/><line x1="1646.72" y1="970.10" x2="1646.72" y2="982.10"/></g>
<g font-family="'Liberation Serif', 'Times New Roman', serif" font-size="93.5" fill="#000">
<text transform="translate(207.90,993.00) scale(0.9465,1)" text-anchor="end">0</text>
<text transform="translate(206.90,770.76) scale(0.9465,1)" text-anchor="end">4</text>
<text transform="translate(207.90,548.52) scale(0.9465,1)" text-anchor="end">8</text>
<text transform="translate(209.40,326.28) scale(0.9465,1)" text-anchor="end">12</text>
<text transform="translate(208.20,104.04) scale(0.9465,1)" text-anchor="end">16</text>
<text transform="translate(241.25,1074.2) scale(0.9465,1)" text-anchor="middle">0.1</text>
<text transform="translate(852.85,1074.2) scale(0.9465,1)" text-anchor="middle">1</text>
<text transform="translate(1466.45,1074.2) scale(0.9465,1)" text-anchor="middle">10</text>
</g>
<g font-family="'Liberation Serif', 'Times New Roman', serif" font-size="100" fill="#000">
<text transform="translate(933.9,1186) scale(0.972,1)"><tspan font-style="italic">t</tspan>, ms</text>
<text transform="translate(82.1,651.7) rotate(-90) scale(0.99,1)"><tspan font-style="italic">d</tspan>, mm</text>
</g>
<rect x="262" y="48" width="570.5" height="402" fill="#fff" stroke="#000" stroke-width="3.6"/>
<use href="#m1" x="336" y="86.6"/><use href="#m2" x="336" y="167.6"/><use href="#m3" x="336" y="248.6"/><use href="#m4" x="336" y="329.6"/><use href="#m5" x="336" y="410.6"/><use href="#m6" x="643" y="86.8"/><use href="#m7" x="643" y="167.8"/><use href="#m8" x="643" y="248.8"/><use href="#m9" x="643" y="329.8"/>
<g font-family="'Liberation Serif', 'Times New Roman', serif" font-size="66.8" fill="#000">
<text transform="translate(425.1,107.6) scale(0.975,1)">D1</text>
<text transform="translate(425.1,188.6) scale(0.975,1)">D2</text>
<text transform="translate(425.1,269.6) scale(0.975,1)">D3</text>
<text transform="translate(425.1,350.6) scale(0.975,1)">D4</text>
<text transform="translate(425.1,431.6) scale(0.975,1)">D5</text>
<text transform="translate(731.9,107.6) scale(0.975,1)">D6</text>
<text transform="translate(731.9,188.6) scale(0.975,1)">D7</text>
<text transform="translate(731.9,269.6) scale(0.975,1)">D8</text>
<text transform="translate(731.9,350.6) scale(0.975,1)">D9</text>
</g>
</svg>
</body></html>
